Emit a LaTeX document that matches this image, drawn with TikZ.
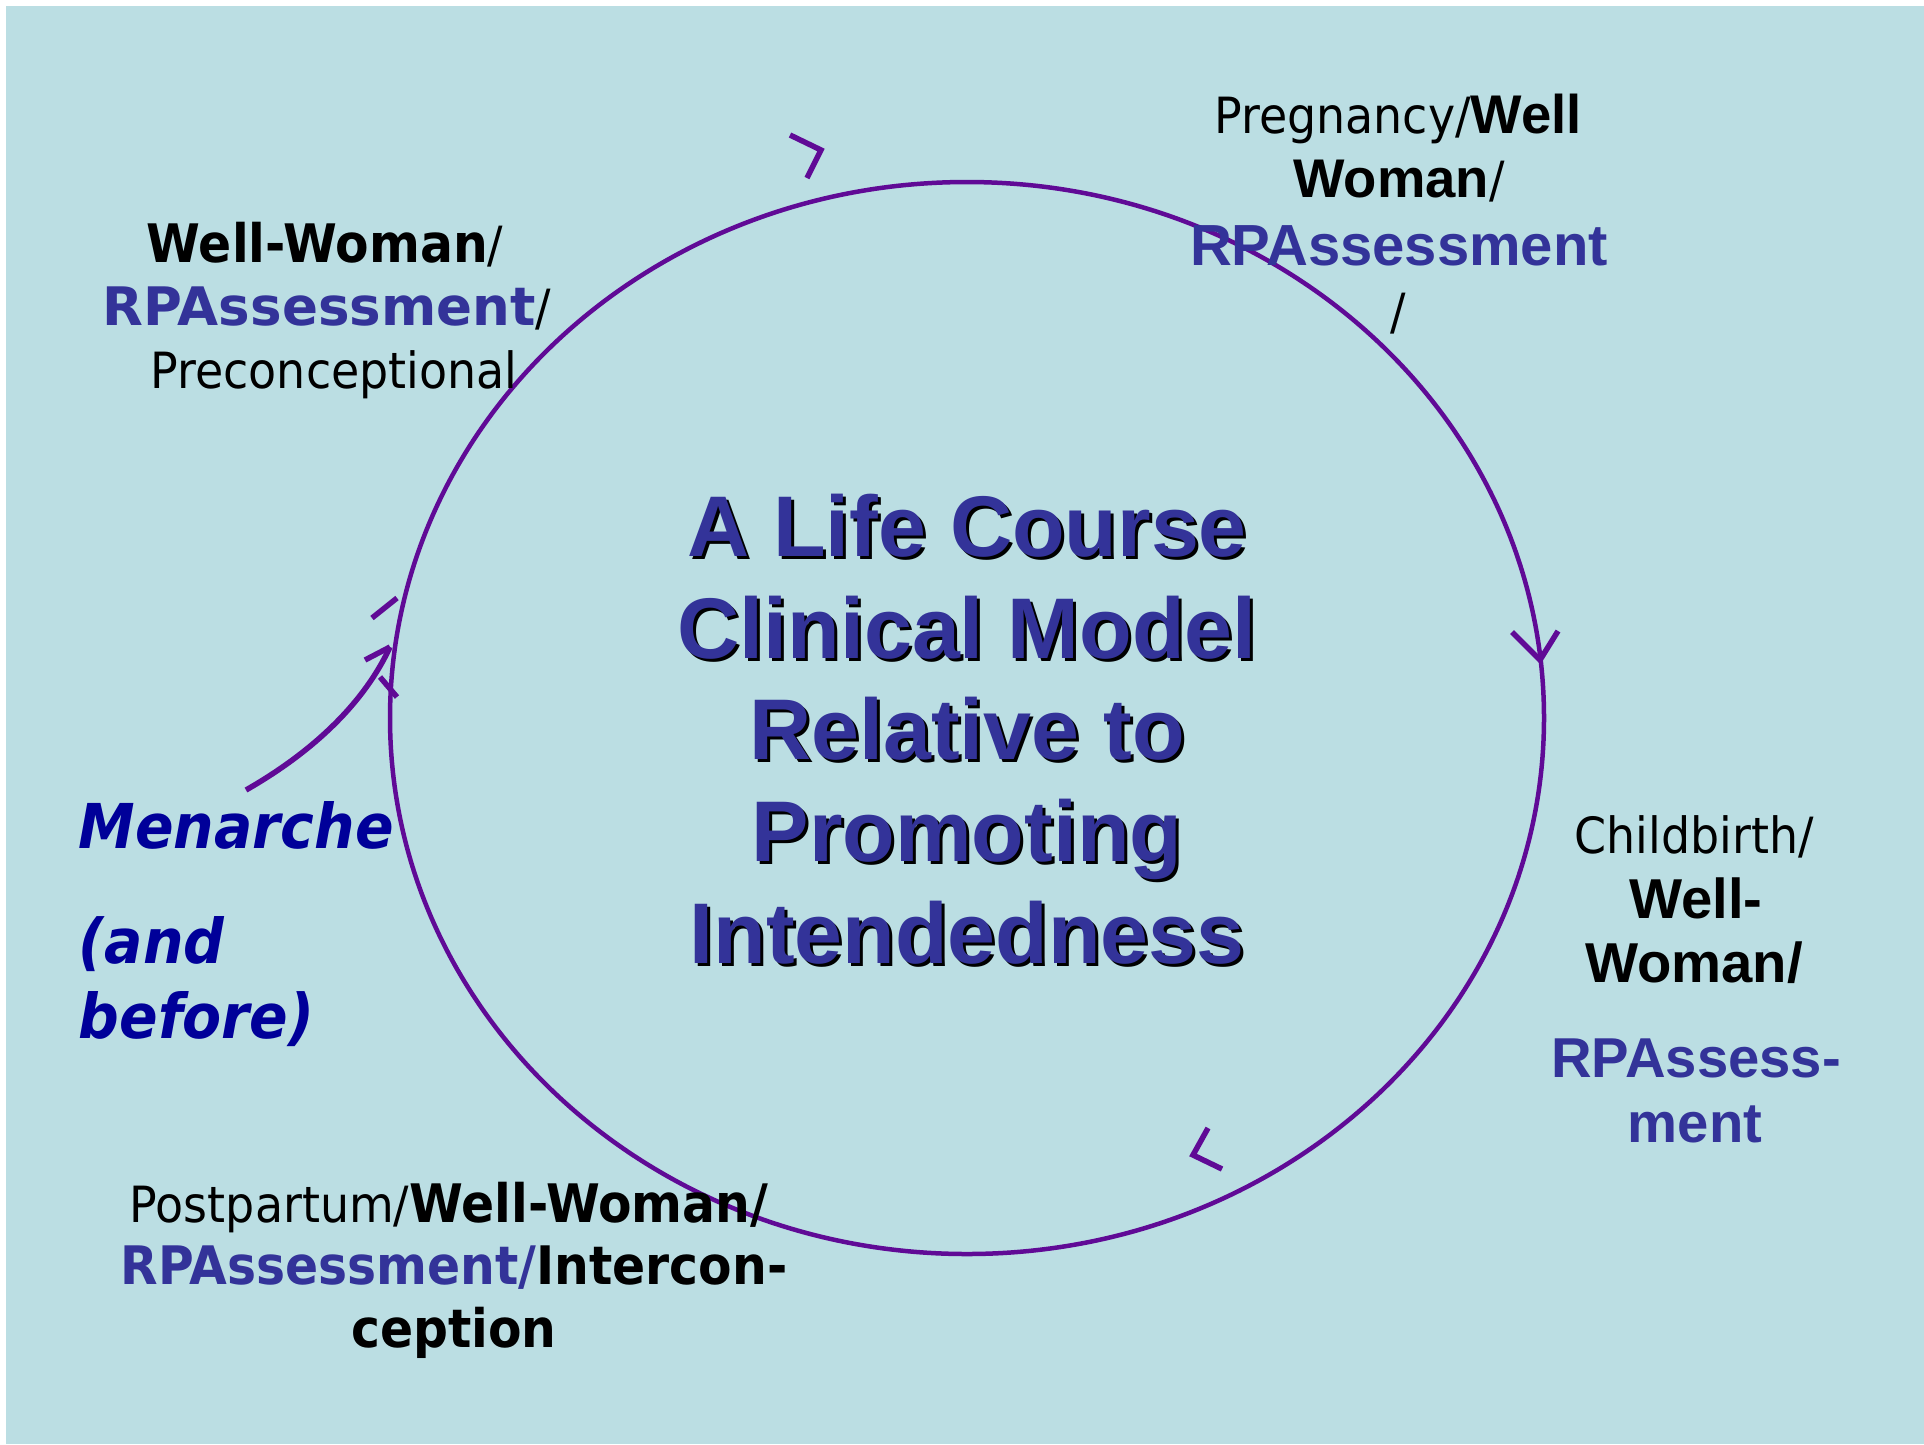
\documentclass[tikz,border=0pt]{standalone}
\usepackage{fontspec}
\setmainfont{DejaVu Sans}
\newfontfamily\tah[FakeStretch=0.92]{DejaVu Sans}
\newfontfamily\tahwide{DejaVu Sans}
\newfontfamily\ari{Liberation Sans}
\definecolor{bgblue}{RGB}{187,222,227}
\definecolor{ringpurple}{RGB}{96,10,150}
\definecolor{rpblue}{RGB}{51,51,153}
\definecolor{menblue}{RGB}{0,0,153}
\newcommand{\tahr}{\tah\mdseries\fontsize{14.2}{17}\selectfont}
\newcommand{\tahb}{\tah\bfseries\fontsize{15.1}{18}\selectfont}
\newcommand{\arib}[1]{\ari\bfseries\fontsize{#1}{#1}\selectfont}
\tikzset{
  lbl/.style={anchor=base, inner sep=0pt},
  menlbl/.style={anchor=base west, inner sep=0pt, text=menblue,
    font=\tah\bfseries\itshape\fontsize{17.6}{20}\selectfont},
  ringline/.style={draw=ringpurple, line width=0.45mm},
  tick/.style={draw=ringpurple, line width=0.55mm},
  title/.style={anchor=north, align=center, inner sep=0pt,
    font=\ari\bfseries\fontsize{24.5}{29}\selectfont}
}
\begin{document}
\begin{tikzpicture}[x=0.1mm, y=-0.1mm]
  %%%%% BACKGROUND %%%%%
  \fill[white] (0,0) rectangle (1924,1444);
  \fill[bgblue] (6,6) rectangle (1924,1444);

  %%%%% RING %%%%%
  \draw[ringline] (967,718) ellipse [x radius=57.7mm, y radius=53.6mm];

  % loose arrow tips round the ring
  \draw[tick] (790,135) -- (821,150) -- (807,178);
  \draw[tick] (1512,632) -- (1540,660) -- (1558,631);
  \draw[tick] (1208,1128) -- (1193,1155) -- (1222,1169);
  \draw[tick] (372,618) -- (397,598);

  %%%%% TITLE %%%%%
  \node[title, text=black] (titleshadow) at (970,496)
    {A Life Course\\Clinical Model\\Relative to\\Promoting\\Intendedness};
  \node[title, text=rpblue] (title) at (967,493)
    {A Life Course\\Clinical Model\\Relative to\\Promoting\\Intendedness};

  %%%%% STAGES %%%%%
  \node[lbl] (tl1) at (325,262) {\tahb Well-Woman\tahr/};
  \node[lbl] (tl2) at (327,325) {{\tahwide\bfseries\fontsize{15.1}{18}\selectfont\color{rpblue}RPAssessment}\tahr/};
  \node[lbl] (tl3) at (334,388) {\tahr Preconceptional};

  \node[lbl] (tr1) at (1398,133) {\tahr Pregnancy/\arib{15.5}Well};
  \node[lbl] (tr2) at (1399,197) {\arib{15.5}Woman\tahr/};
  \node[lbl, text=rpblue] (tr3) at (1399,265) {\arib{16.5}RPAssessment};
  \node[lbl] (tr4) at (1398,329) {\tahr/};

  \node[lbl] (cb1) at (1694,853) {\tahr Childbirth/};
  \node[lbl] (cb2) at (1696,918) {\arib{16}Well-};
  \node[lbl] (cb3) at (1694,982) {\arib{16}Woman/};
  \node[lbl, text=rpblue] (cb4) at (1696,1077) {\arib{16}RPAssess-};
  \node[lbl, text=rpblue] (cb5) at (1695,1142) {\arib{16}ment};

  \node[lbl] (pp1) at (449,1222) {\tahr Postpartum/\tahb Well-Woman/};
  \node[lbl] (pp2) at (454,1284) {{\tahb\color{rpblue}RPAssessment/}\tahb Intercon-};
  \node[lbl] (pp3) at (454,1347) {\tahb ception};

  %%%%% MENARCHE %%%%%
  \node[menlbl] (men1) at (78,848) {Menarche};
  \node[menlbl] (men2) at (78,963) {(and};
  \node[menlbl] (men3) at (78,1038) {before)};

  \coordinate (mstart) at (246,790);
  \coordinate (mtip) at (390,647);
  \draw[tick] (mstart) .. controls (316,750) and (365,701) .. (mtip);
  \draw[tick] (365,660) -- (mtip);
  \draw[tick] (380,677) -- (397,697);
\end{tikzpicture}
\end{document}
